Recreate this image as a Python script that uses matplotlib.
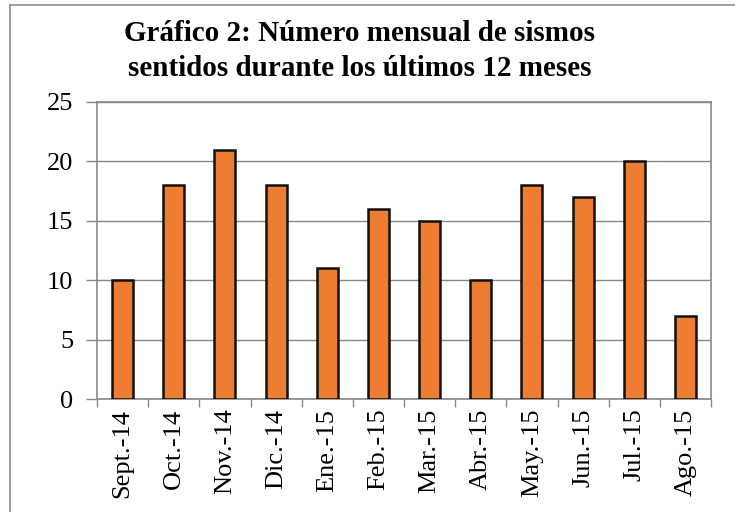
import matplotlib.pyplot as plt
import numpy as np

# Data
meses = ['Sept.-14', 'Oct.-14', 'Nov.-14', 'Dic.-14', 'Ene.-15', 'Feb.-15',
         'Mar.-15', 'Abr.-15', 'May.-15', 'Jun.-15', 'Jul.-15', 'Ago.-15']
sismos = [10, 18, 21, 18, 11, 16, 15, 10, 18, 17, 20, 7]
y_ticks = [0, 5, 10, 15, 20, 25]

plt.rcParams['font.family'] = ['Liberation Serif', 'DejaVu Serif']

fig = plt.figure(figsize=(7.35, 5.12), dpi=100)
W, H = 735, 512

# outer frame (gray lines on top and left, like the source crop)
fig.add_artist(plt.Line2D([10 / W, 1], [1 - 5 / H, 1 - 5 / H], color='#8c8c8c', lw=1.2))
fig.add_artist(plt.Line2D([10 / W, 10 / W], [0, 1 - 5 / H], color='#8c8c8c', lw=1.2))

# plot area in pixels: left 97, right 711, top 102, bottom 399
ax = fig.add_axes([97 / W, 1 - 399 / H, (711 - 97) / W, (399 - 102) / H])

x = np.arange(len(meses))
ax.bar(x, sismos, width=0.41, color='#ED7D31', edgecolor='#111111', linewidth=1.8, zorder=3)

ax.set_xlim(-0.5, len(meses) - 0.5)
ax.set_ylim(0, 25)
ax.set_yticks(y_ticks)
ax.set_yticklabels([str(v) for v in y_ticks], fontsize=19)
ax.yaxis.grid(True, color='#888888', linewidth=1.0, zorder=0)

# ticks at category boundaries, labels in the middle
ax.set_xticks(np.arange(len(meses) + 1) - 0.5)
ax.set_xticklabels([])
ax.set_xticks(x, minor=True)
ax.set_xticklabels(meses, minor=True, rotation=90, fontsize=19)
ax.tick_params(axis='x', which='major', length=6, color='#888888', width=1.0)
ax.tick_params(axis='x', which='minor', length=0, pad=7)
ax.tick_params(axis='y', length=8, color='#888888', width=1.0, pad=9)

for s in ax.spines.values():
    s.set_color('#888888')
    s.set_linewidth(1.2)

fig.text(360 / W, 1 - 51 / H,
         'Gráfico 2: Número mensual de sismos\nsentidos durante los últimos 12 meses',
         ha='center', va='center', fontsize=21, fontweight='bold', linespacing=1.35)

fig.savefig('out.png', dpi=100)
